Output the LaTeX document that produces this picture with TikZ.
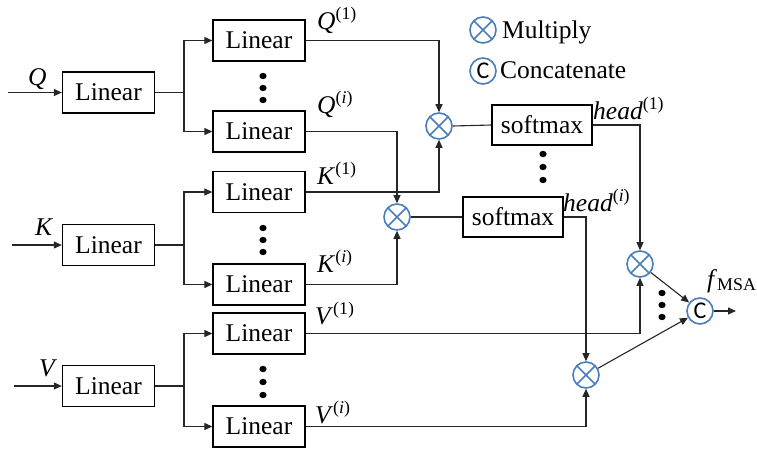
\documentclass[tikz,border=0pt]{standalone}
\usepackage{fontspec}
\setmainfont{Liberation Serif}
\newfontfamily\calib{Carlito}
\usetikzlibrary{arrows.meta}
\definecolor{bluec}{HTML}{4A7EBB}
\definecolor{wirec}{HTML}{262626}
\tikzset{
  lin/.style={draw, line width=1.3pt, minimum width=92pt, minimum height=41pt, inner sep=0pt, font=\fontsize{25.5}{28}\selectfont},
  smax/.style={lin, minimum width=100pt, minimum height=40pt},
  mult/.style={circle, draw=bluec, line width=1.6pt, minimum size=26pt, inner sep=0pt,
    path picture={\draw[bluec,line width=1.6pt] (path picture bounding box.north west) -- (path picture bounding box.south east)
      (path picture bounding box.north east) -- (path picture bounding box.south west);}},
  conc/.style={circle, draw=bluec, line width=1.6pt, minimum size=26pt, inner sep=0pt, font=\calib\fontsize{24}{24}\selectfont},
  lbl/.style={anchor=base west, inner sep=0pt, font=\fontsize{25.5}{28}\selectfont},
  wire/.style={line width=1.1pt, draw=wirec},
  arr/.style={wire, -{Triangle[length=8pt,width=7pt]}},
}
\begin{document}
\begin{tikzpicture}[x=1pt,y=-1pt]
\useasboundingbox (0,0) rectangle (757,456);
% input boxes
\node[lin] (Qin) at (108.5,92.5) {Linear};
\node[lin] (Kin) at (108.5,245) {Linear};
\node[lin] (Vin) at (108.5,386) {Linear};
% second column
\node[lin] (Q1) at (259,40.5) {Linear};
\node[lin] (Qi) at (259,131.5) {Linear};
\node[lin] (K1) at (259,192) {Linear};
\node[lin] (Ki) at (259,284.5) {Linear};
\node[lin] (V1) at (259,333.5) {Linear};
\node[lin] (Vi) at (259,426.5) {Linear};
% softmax
\node[smax] (S1) at (542,125) {softmax};
\node[smax] (S2) at (513,217) {softmax};
% operators
\node[mult] (M1) at (439,126) {};
\node[mult] (M2) at (397,217) {};
\node[mult] (M3) at (640,264) {};
\node[mult] (M4) at (586,375) {};
\node[conc] (C) at (700,311) {C};
% legend
\node[mult] (LM) at (483,30) {};
\node[conc] (LC) at (483,71) {C};
\node[lbl] (LMt) at (502,38) {Multiply};
\node[lbl] (LCt) at (500,78) {Concatenate};
% input labels and arrows
\node[lbl] (Qt) at (28,85) {\textit{Q}};
\node[lbl] (Kt) at (35,235) {\textit{K}};
\node[lbl] (Vt) at (39,376) {\textit{V}};
\coordinate (qs) at (8,92.5);
\coordinate (ks) at (12,245);
\coordinate (vs) at (14,386);
\draw[arr] (qs) -- (Qin.west);
\draw[arr] (ks) -- (Kin.west);
\draw[arr] (vs) -- (Vin.west);
% branches
\coordinate (qb) at (184,92.5);
\coordinate (kb) at (184,245);
\coordinate (vb) at (184,386);
\draw[wire] (Qin.east) -- (qb);
\draw[wire] (Kin.east) -- (kb);
\draw[wire] (Vin.east) -- (vb);
\draw[arr] (qb) |- (Q1.west);
\draw[arr] (qb) |- (Qi.west);
\draw[arr] (kb) |- (K1.west);
\draw[arr] (kb) |- (Ki.west);
\draw[arr] (vb) |- (V1.west);
\draw[arr] (vb) |- (Vi.west);
% projection labels
\node[lbl] (Q1t) at (317,29) {\textit{Q}\textsuperscript{(1)}};
\node[lbl] (Qit) at (317,113) {\textit{Q}\textsuperscript{(\textit{i})}};
\node[lbl] (K1t) at (317,184) {\textit{K}\textsuperscript{(1)}};
\node[lbl] (Kit) at (317,272) {\textit{K}\textsuperscript{(\textit{i})}};
\node[lbl] (V1t) at (315,324) {\textit{V}\textsuperscript{(1)}};
\node[lbl] (Vit) at (315,423) {\textit{V}\textsuperscript{(\textit{i})}};
\node[lbl] (H1t) at (593,119) {\textit{head}\textsuperscript{(1)}};
\node[lbl] (Hit) at (563,211) {\textit{head}\textsuperscript{(\textit{i})}};
\node[lbl] (Ft) at (707,287) {\textit{f}\textsubscript{MSA}};
% connections
\draw[arr] (Q1.east) -| (M1.north);
\draw[arr] (K1.east) -| (M1.south);
\draw[arr] (Qi.east) -| (M2.north);
\draw[arr] (Ki.east) -| (M2.south);
\draw[wire] (M1.east) -- (S1.west);
\draw[wire] (M2.east) -- (S2.west);
\draw[arr] (S1.east) -| (M3.north);
\draw[arr] (S2.east) -| (M4.north);
\draw[arr] (V1.east) -| (M3.south);
\draw[arr] (Vi.east) -| (M4.south);
\draw[arr] (M3) -- (C);
\draw[arr] (M4) -- (C);
\coordinate (out) at (736,311);
\draw[arr] (C.east) -- (out);
% dots
\foreach \x/\y in {263/76,263/88,263/100,263/228,263/240,263/252,263/369,263/382,263/395,543/154,543/167,543/180,662/293,662/305,662/317}
  \fill (\x,\y) ellipse (3.6 and 3.2);
\end{tikzpicture}
\end{document}
